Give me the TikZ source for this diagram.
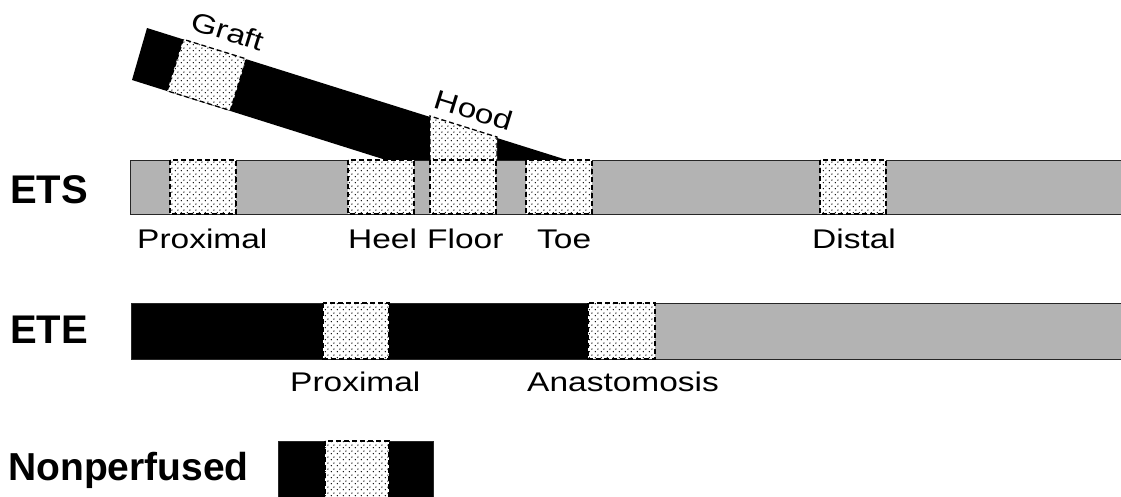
\documentclass[tikz,border=0pt]{standalone}
\usepackage{fontspec}
\setmainfont{Liberation Sans}
\usepackage{graphicx}
\usetikzlibrary{patterns.meta}
\definecolor{vesselgray}{RGB}{179,179,179}
\newcommand{\wide}[1]{\scalebox{1.24}[1]{#1}}
\tikzdeclarepattern{
  name=sitedots, type=uncolored,
  bottom left={(0pt,0pt)}, top right={(6pt,6pt)}, tile size={(6pt,6pt)},
  code={\fill (1.5pt,1.5pt) circle (0.8pt); \fill (4.5pt,4.5pt) circle (0.8pt);}
}

\begin{document}
\begin{tikzpicture}[x=1pt,y=-1pt,
    vessel/.style={draw=black!85,line width=0.9pt},
    dots/.style={preaction={fill=white},pattern=sitedots,pattern color=black},
    window/.style={dots,draw=black,line width=1.3pt,dash pattern=on 5pt off 3pt},
    rowlabel/.style={anchor=base west,inner sep=0pt,font=\fontsize{40}{44}\selectfont\bfseries},
    sitelabel/.style={anchor=base west,inner sep=0pt,font=\fontsize{27}{30}\selectfont}]
    \useasboundingbox (0,0) rectangle (1121,496);
    \clip (0,0) rectangle (1121,496);

    % ETS
    \node[rowlabel] (ets) at (10,203) {ETS};
    \draw[vessel,fill=vesselgray] (130,160) rectangle (1130,214);
    \fill[black] (147,28) -- (567,160) -- (386,160) -- (132,80) -- cycle;
    \begin{scope}[shift={(147,28)},rotate=-17.3]
        \draw[window] (38,0) rectangle (104,54);
    \end{scope}
    \fill[dots] (430,160) -- (430,116) -- (497,137) -- (497,160) -- cycle;
    \draw[line width=1.3pt,dash pattern=on 5pt off 3pt] (430,160) -- (430,116) -- (497,137) -- (497,160);
    \foreach \xa in {170,348,430,526,820}
        \draw[window] (\xa,160) rectangle ++(66,54);
    \node[sitelabel,rotate=-17.3,anchor=center] (graft) at (228,31) {\wide{Graft}};
    \node[sitelabel,rotate=-17.3,anchor=center] (hood) at (474,110) {\wide{Hood}};
    \node[sitelabel] (proxets) at (137,248) {\wide{Proximal}};
    \node[sitelabel] (heel) at (348,248) {\wide{Heel}};
    \node[sitelabel] (floor) at (427,248) {\wide{Floor}};
    \node[sitelabel] (toe) at (537,248) {\wide{Toe}};
    \node[sitelabel] (distal) at (812,248) {\wide{Distal}};

    % ETE
    \node[rowlabel] (ete) at (10,343) {ETE};
    \draw[vessel,fill=vesselgray] (588,303) rectangle (1130,359);
    \draw[vessel,fill=black] (131,303) rectangle (588,359);
    \draw[window] (323,303) rectangle (389,359);
    \draw[window] (588,303) rectangle (655,359);
    \node[sitelabel] (proxete) at (290,391) {\wide{Proximal}};
    \node[sitelabel] (anast) at (527,391) {\wide{Anastomosis}};

    % Nonperfused
    \node[rowlabel,font=\fontsize{39}{44}\selectfont\bfseries] (nonperf) at (8,480) {Nonperfused};
    \draw[vessel,fill=black] (278,441) rectangle (433,505);
    \draw[window] (325,441) rectangle (389,505);
\end{tikzpicture}
\end{document}
